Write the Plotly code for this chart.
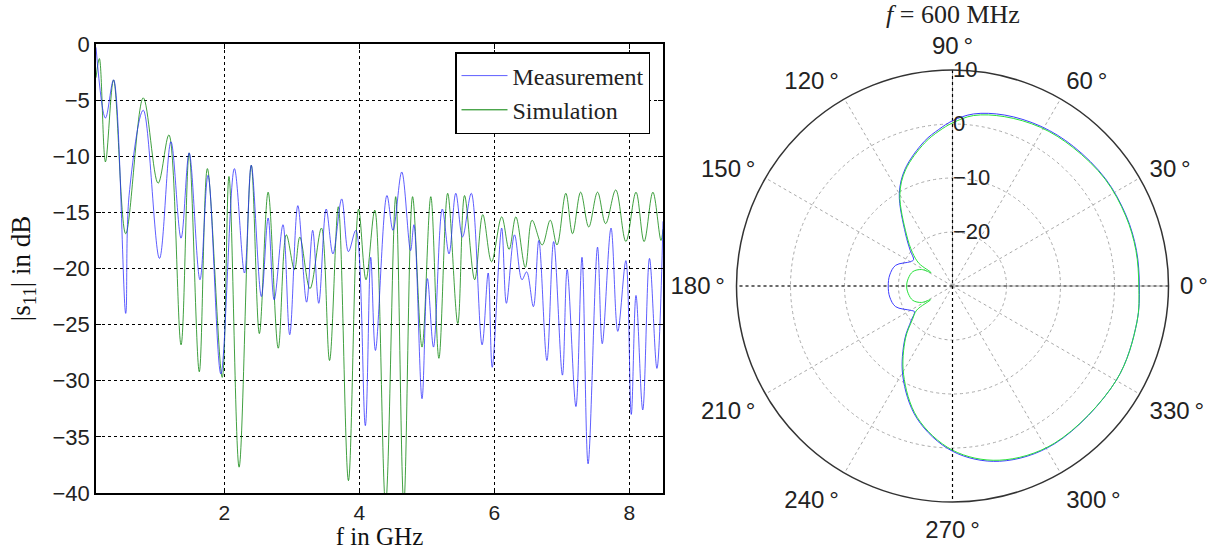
import plotly.graph_objects as go

# ---------------- Left panel: |s11| vs frequency ----------------
meas_f = [0.10, 0.24, 0.36, 0.54, 0.59, 0.80, 1.04, 1.21, 1.36, 1.48, 1.64, 1.76, 1.95,
          2.15, 2.30, 2.40, 2.55, 2.65, 2.74, 2.87, 2.97, 3.09, 3.22, 3.31, 3.40, 3.51,
          3.61, 3.74, 3.84, 3.95, 4.09, 4.17, 4.24, 4.41, 4.50, 4.63, 4.76, 4.81, 4.93,
          5.01, 5.10, 5.23, 5.33, 5.43, 5.53, 5.66, 5.82, 5.91, 5.97, 6.11, 6.18, 6.30,
          6.41, 6.48, 6.58, 6.66, 6.78, 6.88, 7.01, 7.08, 7.21, 7.30, 7.39, 7.53, 7.60,
          7.73, 7.83, 7.95, 8.03, 8.10, 8.20, 8.30, 8.41, 8.50]
meas_db = [-0.3, -6.6, -3.2, -24.0, -13.5, -5.9, -19.1, -8.7, -17.3, -9.7, -21.0, -11.7, -29.4,
           -11.1, -20.4, -10.8, -22.5, -15.5, -22.8, -16.1, -25.9, -14.4, -23.0, -16.6, -23.1, -14.7,
           -18.7, -13.8, -18.5, -16.6, -34.0, -19.0, -27.3, -13.5, -16.6, -11.4, -18.4, -16.1, -31.6,
           -20.9, -27.0, -14.7, -18.7, -13.3, -17.2, -13.3, -26.8, -20.4, -28.8, -16.4, -23.1, -17.0,
           -21.0, -20.3, -23.4, -17.5, -28.2, -17.6, -29.5, -20.1, -32.3, -19.0, -37.4, -18.1, -26.7,
           -16.4, -25.6, -19.3, -33.0, -22.4, -32.6, -19.1, -28.9, -15.8]

sim_f = [0.10, 0.15, 0.24, 0.36, 0.54, 0.80, 1.02, 1.18, 1.36, 1.48, 1.63, 1.75, 1.97,
         2.07, 2.22, 2.40, 2.52, 2.65, 2.80, 2.92, 3.04, 3.12, 3.27, 3.44, 3.56, 3.69,
         3.84, 3.99, 4.10, 4.23, 4.39, 4.54, 4.66, 4.79, 4.93, 5.06, 5.18, 5.31, 5.46,
         5.56, 5.71, 5.83, 5.96, 6.11, 6.22, 6.32, 6.46, 6.56, 6.71, 6.83, 6.93, 7.06,
         7.16, 7.28, 7.40, 7.53, 7.65, 7.80, 7.95, 8.10, 8.22, 8.35, 8.47, 8.50]
sim_db = [-3.0, -1.3, -10.5, -3.2, -16.9, -4.8, -12.4, -8.1, -26.8, -9.7, -29.2, -11.1, -29.7,
          -11.8, -37.7, -10.8, -25.8, -13.2, -27.1, -17.0, -20.1, -17.2, -21.8, -16.4, -28.2, -14.5,
          -38.9, -14.7, -21.0, -14.8, -41.0, -13.6, -41.0, -13.6, -27.0, -13.6, -28.0, -13.3, -24.9,
          -13.5, -21.0, -15.2, -19.4, -15.4, -18.3, -15.4, -19.9, -15.7, -17.9, -15.7, -17.9, -13.3,
          -16.9, -13.2, -16.3, -13.2, -16.0, -13.0, -17.6, -13.2, -17.6, -13.2, -17.5, -16.5]

x_ticks = [2, 4, 6, 8]
y_ticks = [0, -5, -10, -15, -20, -25, -30, -35, -40]

# ---------------- Right panel: polar pattern at 600 MHz ----------------
pol_theta_meas = [0, 11, 22, 35, 49, 61, 73, 83, 90, 95, 101, 112, 120, 132, 140, 146, 150,
                  160, 170, 180, 190, 200, 210, 214, 220, 228, 241, 255, 270, 285, 303, 330,
                  349, 360]
pol_meas = [4.6, 4.7, 4.7, 4.6, 4.2, 3.8, 3.1, 2.1, 0.6, -0.9, -2.7, -6.6, -10.3, -17.0, -19.8,
            -21.3, -21.0, -18.8, -18.2, -18.1, -18.2, -18.8, -21.0, -21.5, -20.0, -16.8, -11.0,
            -4.6, 0.6, 3.6, 4.8, 5.0, 4.8, 4.6]

pol_theta_sim = [0, 11, 22, 35, 49, 61, 73, 83, 90, 95, 101, 112, 120, 132, 140, 146, 148,
                 152, 160, 170, 180, 190, 200, 208, 212, 214, 220, 228, 241, 255, 270, 285,
                 303, 330, 349, 360]
pol_sim = [4.5, 4.6, 4.6, 4.5, 4.0, 3.6, 2.8, 1.8, 0.2, -1.2, -3.0, -6.8, -10.5, -17.3, -20.3,
           -22.5, -25.3, -23.5, -22.2, -21.7, -21.5, -21.7, -22.2, -23.5, -25.2, -22.0, -20.3,
           -17.0, -11.3, -4.8, 0.4, 3.4, 4.7, 5.0, 4.8, 4.5]

r_min, r_max = -30, 10
r_ticks = [-20, -10, 0, 10]
ang_ticks = [0, 30, 60, 90, 120, 150, 180, 210, 240, 270, 300, 330]
ang_labels = [f"{a}\u2009°" for a in ang_ticks]

SANS = "Liberation Sans, Arial, sans-serif"
SERIF = "Liberation Serif, Times New Roman, serif"

W, H = 1214, 550

fig = go.Figure()

fig.add_trace(go.Scatter(x=sim_f, y=sim_db, mode="lines", name="Simulation",
                         line=dict(color="rgba(0,128,0,0.75)", width=1, shape="spline", smoothing=1.0),
                         showlegend=False))
fig.add_trace(go.Scatter(x=meas_f, y=meas_db, mode="lines", name="Measurement",
                         line=dict(color="rgba(40,40,255,0.75)", width=1, shape="spline", smoothing=1.0)))
# legend entry for simulation (ordered after measurement)
fig.add_trace(go.Scatter(x=[None], y=[None], mode="lines", name="Simulation",
                         line=dict(color="rgb(0,128,0)", width=1)))

# polar grid main lines (0-180 and 90-270), black dash-dot
fig.add_trace(go.Scatterpolar(r=[r_max, r_min, r_max], theta=[0, 0, 180], mode="lines",
                              line=dict(color="black", width=1.2, dash="dot"), showlegend=False,
                              subplot="polar"))
fig.add_trace(go.Scatterpolar(r=[r_max, r_min, r_max], theta=[90, 90, 270], mode="lines",
                              line=dict(color="black", width=1.2, dash="dot"), showlegend=False,
                              subplot="polar"))
fig.add_trace(go.Scatterpolar(r=pol_meas, theta=pol_theta_meas, mode="lines",
                              line=dict(color="rgb(60,60,255)", width=1, shape="spline"),
                              showlegend=False, subplot="polar"))
fig.add_trace(go.Scatterpolar(r=pol_sim, theta=pol_theta_sim, mode="lines",
                              line=dict(color="rgb(40,225,60)", width=1, shape="spline"),
                              showlegend=False, subplot="polar"))

fig.update_layout(
    width=W, height=H,
    margin=dict(l=0, r=0, t=0, b=0),
    paper_bgcolor="white", plot_bgcolor="white",
    xaxis=dict(domain=[96 / W, 663 / W], range=[0.1, 8.5], tickvals=x_ticks,
               showgrid=True, gridcolor="black", griddash="dot", gridwidth=1,
               zeroline=False, showline=True, linecolor="black", linewidth=1.5, mirror="ticks",
               ticks="inside", ticklen=5, tickcolor="black",
               tickfont=dict(family=SANS, size=21, color="#222"),
               title=dict(text="f in GHz", font=dict(family=SERIF, size=25, color="#111"), standoff=4),
               automargin=False),
    yaxis=dict(domain=[1 - 493 / H, 1 - 44 / H], range=[-40, 0], tickvals=y_ticks,
               showgrid=True, gridcolor="black", griddash="dot", gridwidth=1,
               zeroline=False, showline=True, linecolor="black", linewidth=1.5, mirror="ticks",
               ticks="inside", ticklen=5, tickcolor="black",
               tickfont=dict(family=SANS, size=22, color="#222"),
               title=dict(text="|s<sub>11</sub>| in dB", font=dict(family=SERIF, size=27, color="#111"), standoff=14),
               automargin=False),
    legend=dict(x=650 / W, xanchor="right", y=1 - 52 / H, yanchor="top",
                bgcolor="white", bordercolor="black", borderwidth=1.5, itemwidth=46,
                font=dict(family=SERIF, size=24, color="#222"), tracegroupgap=0),
    polar=dict(
        domain=dict(x=[736.5 / W, 1168.5 / W], y=[48 / H, 480 / H]),
        bgcolor="white",
        radialaxis=dict(range=[r_min, r_max], tickvals=r_ticks, angle=90, side="clockwise",
                        showline=False, ticks="", showgrid=True, gridcolor="#aaaaaa",
                        griddash="dot", gridwidth=1, tickangle=90,
                        tickfont=dict(family=SANS, size=22, color="#222")),
        angularaxis=dict(rotation=0, direction="counterclockwise", tickvals=ang_ticks,
                         ticktext=ang_labels, showline=True, linecolor="#333", linewidth=1.5,
                         showgrid=True, gridcolor="#aaaaaa", griddash="dot", gridwidth=1,
                         ticks="outside", ticklen=6, tickcolor="rgba(0,0,0,0)",
                         tickfont=dict(family=SANS, size=24, color="#222")),
    ),
    annotations=[dict(text="<i>f</i> = 600 MHz", x=952.5 / W, y=1 - 15 / H, xref="paper", yref="paper",
                      xanchor="center", yanchor="middle", showarrow=False,
                      font=dict(family=SERIF, size=26, color="#222"))],
)

fig.write_html("out.html")
